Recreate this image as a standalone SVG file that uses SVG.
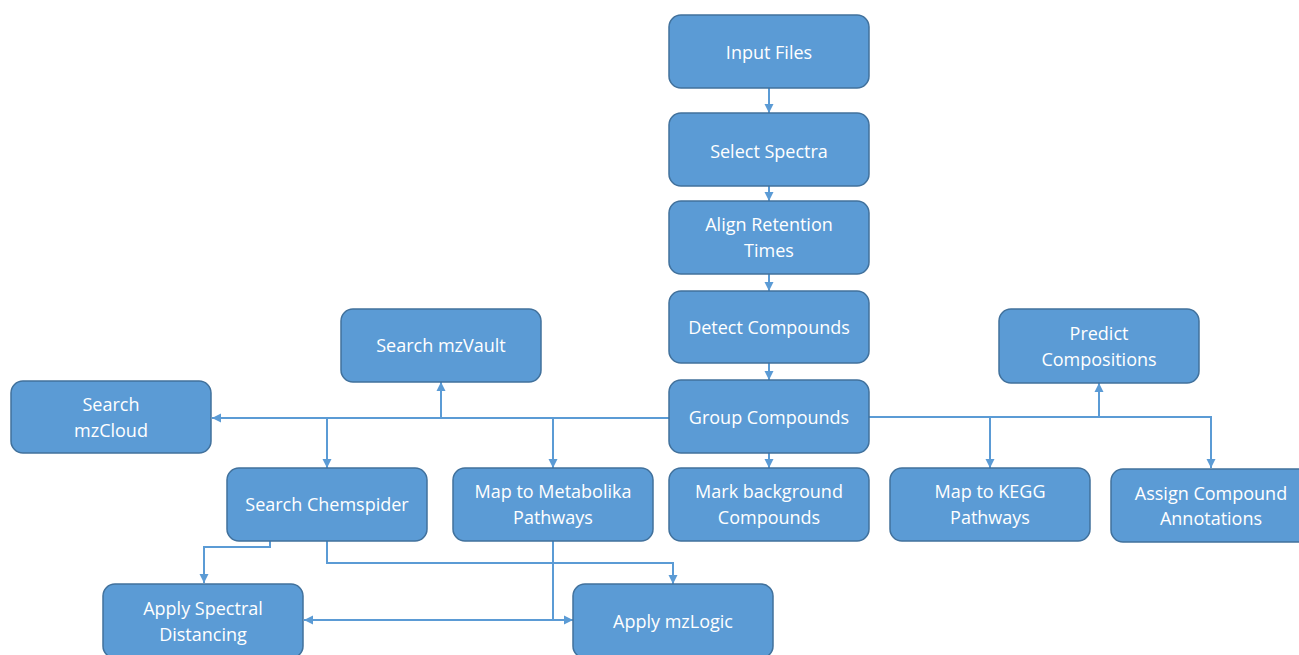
<svg xmlns="http://www.w3.org/2000/svg" width="1299" height="655" viewBox="0 0 1299 655">
<defs>
<style>
.box{fill:#5B9BD5;stroke:#41719C;stroke-width:1.5}
.lbl{fill:#fff;font-family:"Open Sans","Liberation Sans",sans-serif;font-size:18px;text-anchor:middle}
.ln{fill:none;stroke:#5B9BD5;stroke-width:2}
</style>
<marker id="ah" markerWidth="10" markerHeight="10" refX="9" refY="5" orient="auto" markerUnits="userSpaceOnUse">
<path d="M0,0.5 L9,5 L0,9.5 Z" fill="#5B9BD5"/>
</marker>
</defs>
<rect width="1299" height="655" fill="#fff"/>
<g id="connectors">
<path class="ln" d="M769,88 V113" marker-end="url(#ah)"/>
<path class="ln" d="M769,186 V201" marker-end="url(#ah)"/>
<path class="ln" d="M769,274 V291" marker-end="url(#ah)"/>
<path class="ln" d="M769,363 V380" marker-end="url(#ah)"/>
<path class="ln" d="M769,453 V468" marker-end="url(#ah)"/>
<path class="ln" d="M669,418 H212" marker-end="url(#ah)"/>
<path class="ln" d="M441,418 V382" marker-end="url(#ah)"/>
<path class="ln" d="M327,418 V468" marker-end="url(#ah)"/>
<path class="ln" d="M553,418 V468" marker-end="url(#ah)"/>
<path class="ln" d="M868,417 H1211 V468" marker-end="url(#ah)"/>
<path class="ln" d="M1099,417 V383" marker-end="url(#ah)"/>
<path class="ln" d="M990,417 V468" marker-end="url(#ah)"/>
<path class="ln" d="M270,541 V547 H204 V583" marker-end="url(#ah)"/>
<path class="ln" d="M327,541 V563 H673 V584" marker-end="url(#ah)"/>
<path class="ln" d="M553,541 V620 H573" marker-end="url(#ah)"/>
<path class="ln" d="M553,620 H304" marker-end="url(#ah)"/>
</g>
<g id="input-files"><rect class="box" x="669" y="15" width="200" height="73" rx="12"/><text class="lbl" x="769" y="59">Input Files</text></g>
<g id="select-spectra"><rect class="box" x="669" y="113" width="200" height="73" rx="12"/><text class="lbl" x="769" y="158">Select Spectra</text></g>
<g id="align-retention"><rect class="box" x="669" y="201" width="200" height="73" rx="12"/><text class="lbl" x="769" y="231">Align Retention</text><text class="lbl" x="769" y="257">Times</text></g>
<g id="detect-compounds"><rect class="box" x="669" y="291" width="200" height="72" rx="12"/><text class="lbl" x="769" y="334">Detect Compounds</text></g>
<g id="group-compounds"><rect class="box" x="669" y="380" width="200" height="73" rx="12"/><text class="lbl" x="769" y="424">Group Compounds</text></g>
<g id="mark-background"><rect class="box" x="669" y="468" width="200" height="73" rx="12"/><text class="lbl" x="769" y="498">Mark background</text><text class="lbl" x="769" y="524">Compounds</text></g>
<g id="map-metabolika"><rect class="box" x="453" y="468" width="200" height="73" rx="12"/><text class="lbl" x="553" y="498">Map to Metabolika</text><text class="lbl" x="553" y="524">Pathways</text></g>
<g id="search-chemspider"><rect class="box" x="227" y="468" width="200" height="73" rx="12"/><text class="lbl" x="327" y="511">Search Chemspider</text></g>
<g id="search-mzvault"><rect class="box" x="341" y="309" width="200" height="73" rx="12"/><text class="lbl" x="441" y="352">Search mzVault</text></g>
<g id="search-mzcloud"><rect class="box" x="11" y="381" width="200" height="72" rx="12"/><text class="lbl" x="111" y="411">Search</text><text class="lbl" x="111" y="437">mzCloud</text></g>
<g id="predict-compositions"><rect class="box" x="999" y="309" width="200" height="74" rx="12"/><text class="lbl" x="1099" y="340">Predict</text><text class="lbl" x="1099" y="366">Compositions</text></g>
<g id="map-kegg"><rect class="box" x="890" y="468" width="200" height="73" rx="12"/><text class="lbl" x="990" y="498">Map to KEGG</text><text class="lbl" x="990" y="524">Pathways</text></g>
<g id="assign-annotations"><rect class="box" x="1111" y="469" width="200" height="73" rx="12"/><text class="lbl" x="1211" y="500">Assign Compound</text><text class="lbl" x="1211" y="525">Annotations</text></g>
<g id="apply-spectral"><rect class="box" x="103" y="584" width="200" height="74" rx="12"/><text class="lbl" x="203" y="615">Apply Spectral</text><text class="lbl" x="203" y="641">Distancing</text></g>
<g id="apply-mzlogic"><rect class="box" x="573" y="584" width="200" height="74" rx="12"/><text class="lbl" x="673" y="628">Apply mzLogic</text></g>
</svg>
